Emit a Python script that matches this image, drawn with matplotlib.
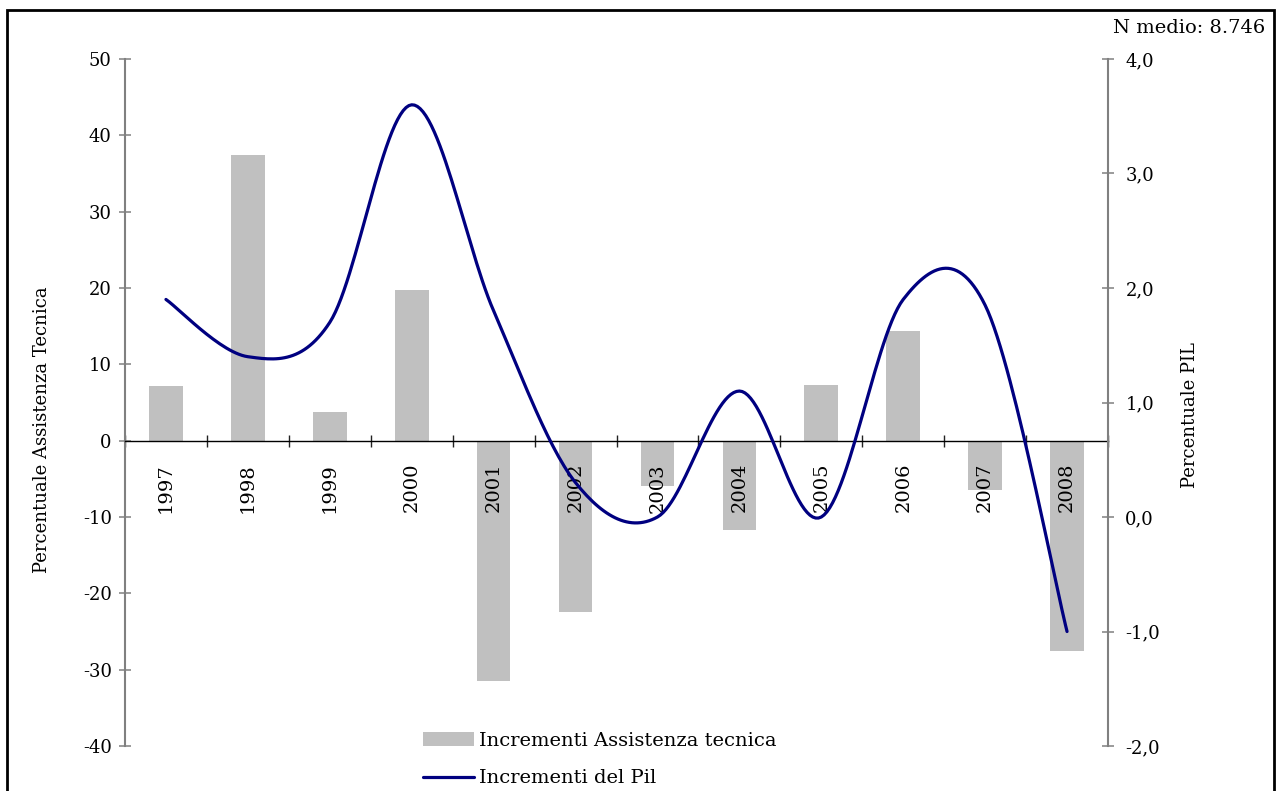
import matplotlib
matplotlib.use("Agg")
import matplotlib.pyplot as plt
import numpy as np
from matplotlib.patches import Rectangle

# data
years = ['1997', '1998', '1999', '2000', '2001', '2002',
         '2003', '2004', '2005', '2006', '2007', '2008']
assistenza = [7.1, 37.4, 3.7, 19.7, -31.5, -22.4, -6.0, -11.7, 7.3, 14.4, -6.4, -27.6]
pil = [1.9, 1.4, 1.7, 3.6, 1.8, 0.3, 0.0, 1.1, 0.0, 1.9, 1.85, -1.0]

left_ticks = [-40, -30, -20, -10, 0, 10, 20, 30, 40, 50]
right_ticks = [-2, -1, 0, 1, 2, 3, 4]

BAR_COLOR = '#C0C0C0'
LINE_COLOR = '#000080'
SPINE_COLOR = '#808080'
FONT = 'DejaVu Serif'


# Smoothed line like the spreadsheet one (Catmull-Rom through the points)
def smooth_line(xs, ys, n=30):
    xs = np.asarray(xs, float)
    ys = np.asarray(ys, float)
    px = np.concatenate([[xs[0]], xs, [xs[-1]]])
    py = np.concatenate([[ys[0]], ys, [ys[-1]]])
    out_x, out_y = [], []
    t = np.linspace(0, 1, n)
    for i in range(1, len(px) - 2):
        x0, x1, x2, x3 = px[i - 1], px[i], px[i + 1], px[i + 2]
        y0, y1, y2, y3 = py[i - 1], py[i], py[i + 1], py[i + 2]
        cx1, cy1 = x1 + (x2 - x0) / 6, y1 + (y2 - y0) / 6
        cx2, cy2 = x2 - (x3 - x1) / 6, y2 - (y3 - y1) / 6
        bx = (1 - t)**3 * x1 + 3 * (1 - t)**2 * t * cx1 + 3 * (1 - t) * t**2 * cx2 + t**3 * x2
        by = (1 - t)**3 * y1 + 3 * (1 - t)**2 * t * cy1 + 3 * (1 - t) * t**2 * cy2 + t**3 * y2
        out_x.extend(bx)
        out_y.extend(by)
    return np.array(out_x), np.array(out_y)


fig = plt.figure(figsize=(12.79, 7.91), dpi=100)
ax = fig.add_axes([125 / 1279, 45 / 791, 983 / 1279, 687 / 791])
ax2 = ax.twinx()

x = np.arange(len(years))
ax.bar(x, assistenza, width=0.41, color=BAR_COLOR, zorder=1,
       label='Incrementi Assistenza tecnica')

sx, sy = smooth_line(x, pil)
ax2.plot(sx, sy, color=LINE_COLOR, linewidth=2.3, solid_capstyle='round',
         label='Incrementi del Pil')

# left axis
ax.set_xlim(-0.5, len(years) - 0.5)
ax.set_ylim(-40, 50)
ax.set_yticks(left_ticks)
ax.set_yticklabels([str(v) for v in left_ticks], fontfamily=FONT, fontsize=13)
ax.tick_params(axis='y', direction='inout', length=9, width=1.1, color=SPINE_COLOR, pad=5)
ax.spines['left'].set_color(SPINE_COLOR)
ax.spines['left'].set_linewidth(1.5)
ax.spines['top'].set_visible(False)
ax.spines['right'].set_visible(False)
ax.spines['bottom'].set_position(('data', 0))
ax.spines['bottom'].set_color('black')
ax.spines['bottom'].set_linewidth(1.0)

# categories: labels at centres, ticks at boundaries
ax.set_xticks(x)
ax.set_xticklabels(years, rotation=90, fontfamily=FONT, fontsize=14, va='top')
ax.tick_params(axis='x', which='major', length=0, pad=16)
ax.set_xticks(np.arange(-0.5, len(years), 1.0), minor=True)
ax.tick_params(axis='x', which='minor', direction='inout', length=9, width=1.0, color='#222222')

# right axis
ax2.set_ylim(-2, 4)
ax2.set_yticks(right_ticks)
ax2.set_yticklabels([f'{v:.1f}'.replace('.', ',') for v in right_ticks],
                    fontfamily=FONT, fontsize=13)
ax2.tick_params(axis='y', direction='inout', length=9, width=1.1, color=SPINE_COLOR, pad=8)
for s in ['left', 'top', 'bottom']:
    ax2.spines[s].set_visible(False)
ax2.spines['right'].set_color(SPINE_COLOR)
ax2.spines['right'].set_linewidth(1.5)

fig.text(42 / 1279, 1 - 430 / 791, 'Percentuale Assistenza Tecnica', rotation=90,
         ha='center', va='center', fontfamily=FONT, fontsize=13)
fig.text(1190 / 1279, 1 - 415 / 791, 'Percentuale PIL', rotation=90,
         ha='center', va='center', fontfamily=FONT, fontsize=13)
fig.text(1265 / 1279, 1 - 28 / 791, 'N medio: 8.746', ha='right', va='center',
         fontfamily=FONT, fontsize=14)

# legend below the plot
h1, l1 = ax.get_legend_handles_labels()
h2, l2 = ax2.get_legend_handles_labels()
fig.legend(h1 + h2, l1 + l2, loc='upper left', bbox_to_anchor=(423 / 1279, 1 - 732 / 791),
           frameon=False, prop={'family': FONT, 'size': 14}, handlelength=2.6,
           handletextpad=0.3, labelspacing=1.0, borderpad=0, borderaxespad=0)

# frame round the whole chart
fig.patches.append(Rectangle((7 / 1279, -0.1), 1267 / 1279, 1.1 - 10 / 791,
                             transform=fig.transFigure, fill=False,
                             edgecolor='black', linewidth=2.0, zorder=10))

fig.savefig('out.png', dpi=100)
